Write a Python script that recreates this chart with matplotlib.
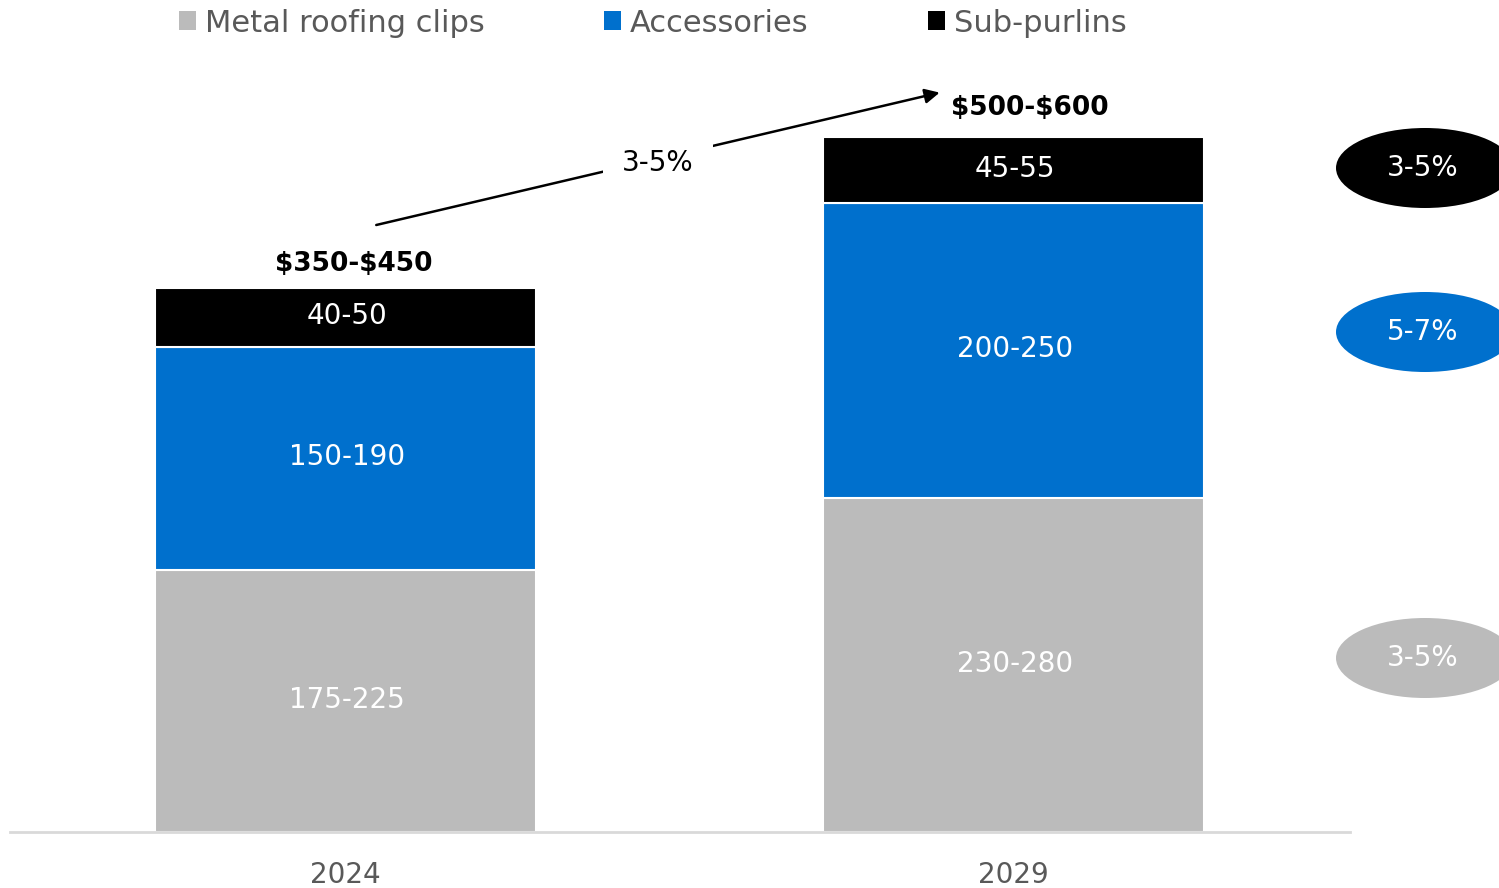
import matplotlib
matplotlib.use("Agg")
import matplotlib.pyplot as plt
from matplotlib.patches import Patch, Ellipse
import numpy as np

plt.rcParams['font.family'] = ['DejaVu Sans']

years = ["2024", "2029"]
segments = ["Metal roofing clips", "Accessories", "Sub-purlins"]
# midpoints of ranges (USD million)
clips = [200, 255]
accessories = [170, 225]
subpurlins = [45, 50]
clips_lbl = ["175-225", "230-280"]
acc_lbl = ["150-190", "200-250"]
sub_lbl = ["40-50", "45-55"]
totals_lbl = [r"\$350-\$450", r"\$500-\$600"]
cagr_total = "3-5%"
cagr_segments = ["3-5%", "5-7%", "3-5%"]  # sub-purlins, accessories, clips

colors = ["#BBBBBB", "#0070CD", "#000000"]
txtgrey = "#595959"

W, H = 1499, 888
fig = plt.figure(figsize=(W/100, H/100), dpi=100)
ax_bottom = 1 - 832/H
ymax = 560
ax_h_px = ymax * 1.311
ax = fig.add_axes([10/W, ax_bottom, 1340/W, ax_h_px/H])
ax.set_xlim(-0.502, 1.503)
ax.set_ylim(0, ymax)

x = np.arange(len(years))
bw = 0.57
data = [clips, accessories, subpurlins]
labels = [clips_lbl, acc_lbl, sub_lbl]
bottom = np.zeros(len(years))
for vals, lbls, c in zip(data, labels, colors):
    ax.bar(x, vals, bw, bottom=bottom, color=c, edgecolor="white", linewidth=1.5, zorder=2)
    for xi, v, b, l in zip(x, vals, bottom, lbls):
        ax.text(xi + 0.002, b + v/2 + 1, l, ha="center", va="center", color="white", fontsize=20)
    bottom = bottom + np.array(vals)

totals = bottom
for i, (xi, t, l) in enumerate(zip(x, totals, totals_lbl)):
    dx = 0.012 + 0.012 * i
    dy = 8 + 4 * i
    ax.text(xi + dx, t + dy, l, ha="center", va="bottom", fontsize=19, fontweight="bold", color="black")

# growth arrow
x0, y0 = x[0] + 0.046, totals[0] + 48
x1, y1 = x[1] - 0.111, totals[1] + 34
ax.annotate("", xy=(x1, y1), xytext=(x0, y0),
            arrowprops=dict(arrowstyle="-|>", color="black", lw=1.8, mutation_scale=22,
                            shrinkA=0, shrinkB=0), annotation_clip=False)
ax.text((x0 + x1)/2 - 0.0, (y0 + y1)/2 - 3, cagr_total, ha="center", va="center", fontsize=20,
        color="black", bbox=dict(facecolor="white", edgecolor="none", pad=14), zorder=5)

# ticks & spines
for s in ["top", "right", "left"]:
    ax.spines[s].set_visible(False)
ax.spines["bottom"].set_color("#D9D9D9")
ax.spines["bottom"].set_linewidth(2)
ax.set_yticks([])
ax.set_xticks(x)
ax.set_xticklabels(years, fontsize=20, color=txtgrey)
ax.tick_params(axis="x", length=0, pad=21)

# CAGR ellipses on right (figure pixel coordinates)
ell_y = [168, 332, 658]
ell_c = [colors[2], colors[1], colors[0]]
for yy, c, t in zip(ell_y, ell_c, cagr_segments):
    e = Ellipse((1425/W, 1 - yy/H), 178/W, 80/H, transform=fig.transFigure,
                facecolor=c, edgecolor="none")
    fig.patches.append(e)
    fig.text(1423/W, 1 - yy/H, t, ha="center", va="center", color="white", fontsize=20)

handles = [Patch(facecolor=c, edgecolor="none") for c in colors]
leg = fig.legend(handles, segments, loc="center", bbox_to_anchor=(653/W, 1 - 23/H), ncol=3,
                 frameon=False, fontsize=22, handlelength=0.55, handleheight=0.55,
                 handletextpad=0.3, columnspacing=3.9, labelcolor=txtgrey)

fig.savefig("out.png", dpi=100)
